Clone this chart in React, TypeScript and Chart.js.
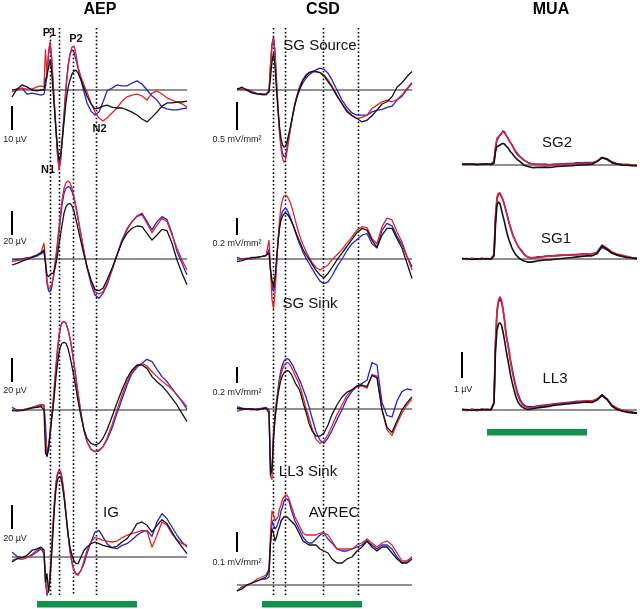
import React, { useEffect, useRef } from 'react';
import { Chart, registerables } from 'chart.js';

Chart.register(...registerables);

// ---------- data (time in ms relative to stimulus onset) ----------
const timeMs = [-50, -40, -30, -20, -10, 0, 8, 14, 17, 20, 23, 26, 29, 32, 35, 38, 41, 44, 47, 50, 54, 58, 62, 66, 70, 74, 78, 82, 88, 94, 100, 108, 116, 124, 132, 140, 150, 160, 170, 180, 190, 200, 210, 220, 230, 240, 250, 260, 270, 280, 290, 300];
const stimulusMs = [0, 200];
const aepMarkersMs = [26, 44, 72, 118];
const csdMarkersMs = [22, 46, 122, 192];

// AEP (µV)
const aep1Red = [-0.8, 0, 0.8, 0.4, 0.4, 1.3, 1.7, 1.3, 16.7, 5, 15.8, 20, 14.6, 4.2, -6.3, -16.7, -27.1, -33.3, -30, -22.9, -11.7, 0, 9.2, 15, 17.9, 18.3, 15, 9.6, 5.4, 2.1, -0.8, -5.4, -9.2, -11.7, -12.9, -11.7, -9.6, -7.5, -4.6, -2.9, -2.1, -1.7, -2.5, -4.2, -1.3, -0.4, -1.7, -3.3, -4.2, -5, -5.8, -7.1];
const aep1Blue = [0, 0.4, 0.8, -1.7, -1.3, -1.7, -2.1, -1.7, 1.3, 6.3, 14.6, 19.6, 13.8, 3.3, -6.7, -16.7, -26.3, -32.1, -29.2, -21.7, -10, 1.7, 10, 15, 16.7, 15.8, 12.5, 9.2, 4.2, -0.8, -5.4, -8.8, -10.4, -9.2, -5, -0.4, 0.8, 2.1, 1.7, 1.7, 2.9, 3.8, 2.5, 0, -2.5, -4.2, -7.1, -7.9, -8.3, -8.3, -7.9, -7.5];
const aep1Black = [-2.9, 0.4, 2.1, 1.3, 0, -0.4, 0, 0, 4.2, 6.3, 9.2, 12.5, 8.3, 0, -8.3, -16.7, -24.2, -29.2, -27.5, -21.7, -13.3, -5, 0.8, 4.2, 6.7, 7.9, 8.3, 7.1, 4.2, 0.8, -2.5, -5.8, -7.9, -7.5, -6.7, -6.3, -7.1, -7.5, -7.5, -8.3, -9.2, -10.4, -12.1, -13.3, -11.3, -9.2, -6.7, -5.4, -5.4, -5, -5, -4.6];

const aep2Red = [-2.2, -1.4, -0.8, 0.6, 1.9, 3.3, 5.3, 13.1, -0.8, -17.5, -24.4, -24.4, -21.7, -16.1, -6.4, 3.3, 14.4, 26.9, 38.1, 49.2, 58.9, 63.6, 65, 63.6, 58.9, 51.9, 43.6, 33.9, 20, 6.1, -6.4, -18.9, -27.2, -29.2, -27.2, -20.3, -9.2, 3.3, 14.4, 24.2, 31.1, 35.3, 36.7, 29.7, 21.9, 28.3, 33.9, 31.1, 20, 8.9, -0.8, -9.2];
const aep2Blue = [-0.8, -0.3, 0, 1.1, 1.4, 2.5, 4.2, 6.1, -3.6, -20.3, -26.4, -27.5, -24.4, -17.5, -9.2, 0.6, 11.7, 22.5, 33.9, 45, 54.7, 58.9, 60.3, 59.7, 56.1, 50.6, 42.2, 33.9, 20, 6.1, -6.9, -20.8, -30, -32.8, -28.6, -21.7, -9.2, 3.3, 15.8, 25.3, 31.1, 35.8, 38.1, 31.4, 24.2, 31.1, 35.3, 32.8, 21.4, 6.1, -3.6, -13.3];
const aep2Black = [-5, -3.6, -1.7, -0.3, 1.4, 3.3, 5.3, 7.5, -3.6, -13.3, -14.7, -13.3, -11.9, -11.9, -9.2, -3.6, 3.3, 11.7, 20, 28.3, 38.1, 43.6, 45.8, 46.4, 44.2, 39.7, 32.8, 25.3, 14.2, 3.3, -6.4, -17.5, -25.3, -26.4, -24.4, -17.5, -7.8, 3.3, 14.4, 21.4, 25.6, 27.5, 26.9, 21.4, 15.8, 20, 24.7, 23.6, 13.1, -0.8, -11.9, -21.4];

const aep3Red = [0, -0.6, 0, 1.1, 2.2, 3.6, 4.7, 4.2, -22.2, -33.3, -30.6, -19.4, -6.9, 6.9, 22.2, 37.5, 51.4, 62.5, 69.4, 72.8, 73.6, 72.2, 67.2, 59.7, 50, 38.9, 26.4, 13.9, -2.8, -16.7, -26.4, -32.8, -34.7, -34.2, -30.6, -23.6, -12.5, 0, 12.5, 23.6, 31.9, 36.7, 38.9, 36.7, 31.9, 27.8, 24.2, 20.8, 17.2, 12.5, 7.8, 2.8];
const aep3Blue = [2.2, 0, 0, 0.8, 1.7, 2.8, 3.6, 3.3, -11.1, -38.9, -33.3, -22.2, -8.3, 2.8, 18.1, 34.7, 48.6, 61.1, 68.9, 72.8, 73.6, 72.2, 67.2, 59.7, 50, 38.9, 26.4, 13.9, -2.8, -16.7, -26.4, -32.8, -34.7, -33.3, -30.6, -25, -15.3, -2.8, 8.9, 20.8, 30.6, 35.6, 38.9, 42.2, 40.3, 33.9, 27.8, 23.6, 18.1, 12.5, 6.9, 0.6];
const aep3Black = [-0.6, -0.8, -0.6, 0.6, 1.7, 2.2, 2.8, 0, -36.1, -38.3, -31.9, -19.4, -8.3, 1.4, 13.9, 27.8, 38.9, 47.8, 52.8, 55.6, 56.4, 55.6, 51.4, 44.4, 36.1, 27.8, 18.1, 7.8, -5.6, -16.7, -23.6, -27.8, -29.2, -27.8, -23.6, -16.7, -5.6, 6.1, 16.7, 26.4, 33.3, 37.5, 37.5, 34.7, 27.8, 23.6, 20, 15.3, 9.7, 4.2, -2.8, -9.7];

const aep4Red = [-2.8, -1.4, -1.9, -0.6, 2.2, 5.6, 7.8, 2.8, -22.2, -30.6, -27.8, -13.9, 5.6, 27.8, 47.2, 62.5, 70, 72.2, 71.7, 66.7, 52.8, 36.1, 19.4, 4.2, -5.6, -11.1, -14.4, -15.3, -11.1, -2.8, 5.6, 12.5, 16.1, 15.3, 13.9, 13.3, 12.5, 13.3, 16.1, 18.1, 19.4, 20.8, 22.2, 21.7, 8.3, 18.1, 29.2, 26.4, 19.4, 14.4, 11.1, 9.7];
const aep4Blue = [4.2, 0.6, -0.6, 0, 1.4, 4.2, 6.9, 2.8, -16.7, -31.9, -27.8, -16.7, 2.8, 25, 44.4, 61.1, 68.9, 70.8, 70.6, 65.3, 52.8, 36.1, 19.4, 5.6, -4.2, -11.1, -13.9, -14.4, -11.1, -5.6, 2.8, 12.5, 20.8, 22.2, 16.7, 11.1, 7.8, 6.9, 9.7, 11.1, 14.4, 18.1, 20.8, 22.2, 17.2, 29.2, 36.1, 31.9, 25, 18.1, 12.5, 8.3];
const aep4Black = [-4.2, -1.4, -0.6, 1.4, 5.6, 6.7, 8.3, 5.6, -20.8, -13.9, -29.2, -19.4, 0, 20.8, 41.7, 56.9, 64.4, 66.7, 66.7, 61.1, 50, 34.7, 19.4, 8.3, 1.4, -3.3, -5.6, -5.6, 0, 5.6, 8.3, 11.1, 12.5, 11.1, 9.7, 8.9, 7.8, 8.9, 12.5, 15.3, 20.8, 27.8, 29.2, 26.4, 20.8, 26.4, 31.1, 27.8, 20.8, 13.9, 8.3, 2.8];

// CSD (mV/mm²)
const csd1Red = [0.01, 0.02, -0.01, -0.05, -0.07, -0.08, -0.08, 0, 0.48, 0.83, 0.92, 0.66, 0.12, -0.36, -0.77, -1.04, -1.22, -1.29, -1.25, -1.1, -0.86, -0.63, -0.42, -0.24, -0.09, 0.03, 0.12, 0.19, 0.27, 0.31, 0.33, 0.33, 0.31, 0.27, 0.18, 0.07, -0.09, -0.24, -0.36, -0.45, -0.51, -0.49, -0.45, -0.33, -0.27, -0.21, -0.18, -0.21, -0.17, -0.09, 0.03, 0.13];
const csd1Blue = [0.03, 0.01, 0.01, -0.03, -0.06, -0.07, -0.08, -0.03, 0.42, 0.8, 0.95, 0.69, 0.18, -0.3, -0.71, -0.98, -1.13, -1.19, -1.18, -1.04, -0.83, -0.63, -0.43, -0.25, -0.12, -0.03, 0.06, 0.13, 0.21, 0.27, 0.31, 0.36, 0.39, 0.37, 0.3, 0.18, 0, -0.18, -0.31, -0.41, -0.45, -0.45, -0.45, -0.39, -0.36, -0.35, -0.31, -0.29, -0.18, -0.11, 0.01, 0.12];
const csd1Black = [0.01, 0.05, 0, -0.05, -0.07, -0.08, -0.08, -0.03, 0.21, 0.51, 0.66, 0.42, 0, -0.36, -0.66, -0.86, -0.98, -1.02, -1.01, -0.92, -0.77, -0.6, -0.42, -0.25, -0.12, 0, 0.09, 0.18, 0.25, 0.31, 0.33, 0.33, 0.31, 0.25, 0.15, 0.05, -0.11, -0.25, -0.39, -0.46, -0.51, -0.57, -0.54, -0.46, -0.36, -0.25, -0.21, -0.12, 0.05, 0.13, 0.24, 0.33];

const csd2Red = [-0.01, 0, 0, 0.01, 0.02, 0.03, 0.04, 0.22, -0.09, -0.48, -0.58, -0.4, -0.09, 0.22, 0.46, 0.62, 0.7, 0.74, 0.75, 0.74, 0.7, 0.64, 0.56, 0.47, 0.38, 0.3, 0.23, 0.17, 0.09, 0.02, -0.04, -0.1, -0.13, -0.1, -0.07, -0.01, 0.05, 0.11, 0.19, 0.26, 0.34, 0.38, 0.37, 0.24, 0.18, 0.38, 0.48, 0.46, 0.32, 0.2, 0.03, -0.13];
const csd2Blue = [0.02, 0, 0.01, 0, 0.02, 0.03, 0.04, 0.11, -0.13, -0.33, -0.38, -0.29, -0.05, 0.2, 0.38, 0.5, 0.56, 0.58, 0.6, 0.58, 0.53, 0.47, 0.4, 0.33, 0.26, 0.19, 0.14, 0.08, 0.01, -0.05, -0.11, -0.19, -0.26, -0.29, -0.27, -0.2, -0.09, 0, 0.1, 0.18, 0.23, 0.28, 0.3, 0.18, 0.13, 0.34, 0.42, 0.39, 0.27, 0.17, 0.03, -0.09];
const csd2Black = [-0.03, -0.02, 0, 0.02, 0.02, 0.03, 0.04, 0.07, -0.13, -0.25, -0.33, -0.21, -0.01, 0.2, 0.36, 0.46, 0.5, 0.53, 0.54, 0.53, 0.5, 0.45, 0.4, 0.34, 0.28, 0.22, 0.17, 0.11, 0.05, 0, -0.06, -0.13, -0.19, -0.22, -0.17, -0.1, -0.01, 0.07, 0.15, 0.23, 0.31, 0.36, 0.34, 0.22, 0.14, 0.28, 0.36, 0.36, 0.24, 0.13, -0.05, -0.23];

const csd3Red = [-0.03, -0.01, 0, 0, -0.01, 0, 0.01, -0.01, -0.84, -0.88, -0.34, -0.09, 0.08, 0.22, 0.35, 0.43, 0.5, 0.54, 0.57, 0.58, 0.57, 0.53, 0.48, 0.42, 0.37, 0.32, 0.24, 0.15, 0.01, -0.11, -0.24, -0.38, -0.43, -0.4, -0.32, -0.21, -0.07, 0.05, 0.17, 0.24, 0.28, 0.29, 0.26, 0.43, 0.41, -0.01, -0.26, -0.33, -0.18, -0.05, 0.05, 0.12];
const csd3Blue = [0.03, 0.01, 0, -0.01, 0, 0.01, 0.02, -0.01, -0.72, -0.76, -0.3, -0.07, 0.1, 0.24, 0.39, 0.49, 0.55, 0.6, 0.62, 0.63, 0.62, 0.58, 0.54, 0.48, 0.43, 0.37, 0.32, 0.25, 0.15, 0.03, -0.11, -0.28, -0.39, -0.43, -0.36, -0.27, -0.13, -0.01, 0.13, 0.22, 0.28, 0.32, 0.36, 0.58, 0.55, 0.08, -0.08, -0.1, 0.1, 0.22, 0.25, 0.24];
const csd3Black = [0.01, 0, 0, 0, -0.01, 0, 0.01, -0.05, -0.82, -0.76, -0.38, -0.13, 0.03, 0.18, 0.28, 0.37, 0.42, 0.45, 0.47, 0.48, 0.47, 0.44, 0.39, 0.33, 0.29, 0.25, 0.18, 0.08, -0.04, -0.18, -0.27, -0.34, -0.34, -0.3, -0.2, -0.07, 0.05, 0.15, 0.21, 0.24, 0.29, 0.3, 0.28, 0.42, 0.39, -0.01, -0.23, -0.29, -0.15, -0.01, 0.08, 0.15];

const csd4Red = [-0.03, -0.01, 0, 0.01, 0.03, 0.04, 0.05, 0.08, 0.26, 0.37, 0.35, 0.32, 0.33, 0.34, 0.38, 0.4, 0.43, 0.44, 0.45, 0.45, 0.43, 0.4, 0.37, 0.34, 0.32, 0.3, 0.28, 0.26, 0.25, 0.25, 0.25, 0.25, 0.26, 0.26, 0.25, 0.22, 0.18, 0.18, 0.18, 0.18, 0.2, 0.21, 0.23, 0.21, 0.19, 0.21, 0.22, 0.2, 0.16, 0.12, 0.12, 0.14];
const csd4Blue = [-0.03, -0.01, 0, 0.01, 0.02, 0.03, 0.03, 0.04, 0.21, 0.32, 0.3, 0.28, 0.29, 0.31, 0.33, 0.37, 0.39, 0.42, 0.43, 0.43, 0.42, 0.38, 0.35, 0.32, 0.3, 0.28, 0.26, 0.24, 0.22, 0.21, 0.21, 0.23, 0.25, 0.26, 0.23, 0.21, 0.18, 0.17, 0.17, 0.18, 0.19, 0.2, 0.22, 0.2, 0.18, 0.2, 0.2, 0.18, 0.14, 0.11, 0.12, 0.14];
const csd4Black = [-0.03, -0.02, 0, 0.01, 0.02, 0.03, 0.04, 0.07, 0.21, 0.28, 0.26, 0.22, 0.24, 0.27, 0.29, 0.32, 0.33, 0.34, 0.34, 0.34, 0.33, 0.32, 0.31, 0.3, 0.28, 0.26, 0.24, 0.22, 0.21, 0.2, 0.2, 0.2, 0.18, 0.17, 0.16, 0.13, 0.11, 0.11, 0.13, 0.14, 0.17, 0.19, 0.22, 0.19, 0.17, 0.19, 0.19, 0.16, 0.13, 0.11, 0.11, 0.13];

// MUA (µV)
const muaSg2Red = [0.04, 0.03, 0.05, 0.03, 0.04, 0.04, 0.03, 0.13, 0.71, 1.03, 1.09, 1.15, 1.22, 1.28, 1.24, 1.15, 1.06, 0.96, 0.86, 0.77, 0.64, 0.51, 0.42, 0.32, 0.24, 0.19, 0.14, 0.1, 0.06, 0.04, 0.03, 0.01, 0.01, 0, 0, 0.01, 0.03, 0.04, 0.04, 0.05, 0.06, 0.06, 0.08, 0.14, 0.29, 0.24, 0.12, 0.06, 0.04, 0.03, 0.01, 0];
const muaSg2Blue = [0.05, 0.02, 0.04, 0.01, 0.05, 0.03, 0.04, 0.13, 0.64, 0.96, 1.06, 1.15, 1.22, 1.31, 1.28, 1.15, 1.06, 0.96, 0.86, 0.77, 0.62, 0.47, 0.38, 0.32, 0.26, 0.19, 0.14, 0.09, 0.06, 0.04, 0.03, 0.03, 0.04, 0.01, 0.03, 0.04, 0.04, 0.06, 0.06, 0.08, 0.08, 0.09, 0.09, 0.14, 0.27, 0.22, 0.09, 0.04, 0.01, 0, -0.01, -0.03];
const muaSg2Black = [0.03, 0.04, 0.04, 0.02, 0.03, 0.05, 0.02, 0.06, 0.51, 0.71, 0.73, 0.77, 0.81, 0.83, 0.81, 0.73, 0.68, 0.6, 0.51, 0.45, 0.35, 0.26, 0.19, 0.13, 0.06, 0, -0.04, -0.06, -0.09, -0.1, -0.09, -0.09, -0.08, -0.09, -0.08, -0.06, -0.05, -0.04, -0.03, -0.01, 0, 0.01, 0.03, 0.13, 0.29, 0.22, 0.09, 0.04, 0, -0.01, -0.03, -0.03];

const muaSg1Red = [0.02, -0.02, 0.03, 0, 0.02, -0.01, 0.02, 0.15, 1.69, 2.38, 2.54, 2.54, 2.42, 2.27, 2.08, 1.85, 1.62, 1.38, 1.19, 1, 0.81, 0.65, 0.5, 0.38, 0.27, 0.19, 0.12, 0.08, 0.04, 0.04, 0.06, 0.08, 0.1, 0.1, 0.12, 0.12, 0.14, 0.15, 0.15, 0.17, 0.17, 0.19, 0.19, 0.27, 0.54, 0.42, 0.27, 0.19, 0.15, 0.1, 0.06, 0.04];
const muaSg1Blue = [0.03, 0, 0.02, -0.02, 0.03, 0, 0.01, 0.15, 1.58, 2.31, 2.5, 2.5, 2.38, 2.27, 2.08, 1.85, 1.65, 1.42, 1.23, 1.04, 0.81, 0.65, 0.5, 0.38, 0.31, 0.19, 0.12, 0.08, 0.04, 0.06, 0.08, 0.08, 0.1, 0.12, 0.12, 0.14, 0.15, 0.15, 0.17, 0.17, 0.19, 0.19, 0.2, 0.23, 0.46, 0.35, 0.23, 0.15, 0.12, 0.08, 0.04, 0];
const muaSg1Black = [0, 0.02, -0.02, 0.01, 0, 0.02, -0.01, 0.12, 1.31, 2.08, 2.19, 2.12, 1.88, 1.65, 1.42, 1.15, 0.92, 0.73, 0.58, 0.42, 0.27, 0.15, 0.08, 0, -0.04, -0.08, -0.1, -0.12, -0.12, -0.1, -0.08, -0.06, -0.04, -0.04, -0.02, 0, 0.02, 0.04, 0.06, 0.08, 0.1, 0.12, 0.12, 0.2, 0.5, 0.38, 0.23, 0.15, 0.1, 0.06, 0.04, 0.02];

const muaLl3Red = [0.02, -0.03, 0.04, 0, 0.03, -0.02, 0.02, 0.3, 2.69, 3.85, 4.23, 4.35, 4.23, 3.92, 3.46, 2.88, 2.58, 2.23, 1.85, 1.54, 1.15, 0.81, 0.54, 0.35, 0.23, 0.15, 0.12, 0.08, 0.08, 0.1, 0.12, 0.15, 0.17, 0.19, 0.21, 0.23, 0.25, 0.27, 0.29, 0.31, 0.33, 0.35, 0.35, 0.42, 0.58, 0.42, 0.19, 0.08, 0, -0.04, -0.08, -0.12];
const muaLl3Blue = [0.04, 0, 0.02, -0.03, 0.04, 0.01, 0.03, 0.3, 2.5, 3.77, 4.15, 4.27, 4.15, 3.85, 3.46, 2.96, 2.62, 2.31, 1.92, 1.62, 1.23, 0.88, 0.62, 0.42, 0.27, 0.19, 0.15, 0.12, 0.12, 0.12, 0.15, 0.17, 0.19, 0.21, 0.23, 0.25, 0.27, 0.29, 0.31, 0.33, 0.33, 0.35, 0.35, 0.4, 0.54, 0.4, 0.15, 0.04, -0.04, -0.08, -0.1, -0.12];
const muaLl3Black = [0, 0.02, -0.02, 0.02, 0, 0.03, 0, 0.25, 2.31, 3.08, 3.31, 3.35, 3.27, 3, 2.69, 2.31, 2, 1.69, 1.35, 1.08, 0.77, 0.5, 0.31, 0.19, 0.12, 0.08, 0.04, 0.02, 0.04, 0.06, 0.08, 0.1, 0.12, 0.14, 0.17, 0.19, 0.21, 0.23, 0.25, 0.27, 0.29, 0.31, 0.29, 0.38, 0.58, 0.42, 0.15, 0.02, -0.04, -0.08, -0.1, -0.12];

// ---------- layout & style ----------
const W = 640;
const H = 609;
const MS_PER_PX = 2;
const RED = '#e2232b';
const BLUE = '#2323d4';
const BLACK = '#111111';
const GREEN = '#11924a';
const FONT = '"Liberation Sans", Arial, Helvetica, sans-serif';

type Panel = {
  red: number[]; blue: number[]; black: number[];
  base: number; k: number;
  bar?: number; barBottom?: number; barLabel?: string; labelY?: number;
};
type Column = {
  id: string; title: string; titleX: number; x0: number; lw: number;
  markers: number[]; markerTops: number[]; stimY: number; labelDx: number;
  panels: Panel[];
};

const columns: Column[] = [
  {
    id: 'A', title: 'AEP', titleX: 100, x0: 12, lw: 1.3, markers: aepMarkersMs, markerTops: [28, 28, 46, 28], stimY: 604, labelDx: 3,
    panels: [
      { red: aep1Red, blue: aep1Blue, black: aep1Black, base: 90, k: 2.4, bar: 10, barBottom: 130, barLabel: '10 µV', labelY: 140 },
      { red: aep2Red, blue: aep2Blue, black: aep2Black, base: 259, k: 1.2, bar: 20, barBottom: 235, barLabel: '20 µV', labelY: 242 },
      { red: aep3Red, blue: aep3Blue, black: aep3Black, base: 410, k: 1.2, bar: 20, barBottom: 382, barLabel: '20 µV', labelY: 391 },
      { red: aep4Red, blue: aep4Blue, black: aep4Black, base: 557, k: 1.2, bar: 20, barBottom: 529, barLabel: '20 µV', labelY: 539 },
    ],
  },
  {
    id: 'C', title: 'CSD', titleX: 323, x0: 237, lw: 1.3, markers: csdMarkersMs, markerTops: [28, 28, 28, 28], stimY: 604, labelDx: 0,
    panels: [
      { red: csd1Red, blue: csd1Blue, black: csd1Black, base: 90, k: 56, bar: 0.5, barBottom: 130, barLabel: '0.5 mV/mm²', labelY: 140 },
      { red: csd2Red, blue: csd2Blue, black: csd2Black, base: 259, k: 85, bar: 0.2, barBottom: 235, barLabel: '0.2 mV/mm²', labelY: 244 },
      { red: csd3Red, blue: csd3Blue, black: csd3Black, base: 409, k: 80, bar: 0.2, barBottom: 383, barLabel: '0.2 mV/mm²', labelY: 393 },
      { red: csd4Red, blue: csd4Blue, black: csd4Black, base: 585, k: 200, bar: 0.1, barBottom: 552, barLabel: '0.1 mV/mm²', labelY: 563 },
    ],
  },
  {
    id: 'M', title: 'MUA', titleX: 551, x0: 462, lw: 1.6, markers: [], markerTops: [], stimY: 432, labelDx: 1,
    panels: [
      { red: muaSg2Red, blue: muaSg2Blue, black: muaSg2Black, base: 165, k: 26 },
      { red: muaSg1Red, blue: muaSg1Blue, black: muaSg1Black, base: 259, k: 26 },
      { red: muaLl3Red, blue: muaLl3Blue, black: muaLl3Black, base: 410, k: 26, bar: 1, barBottom: 378, barLabel: '1 µV', labelY: 390 },
    ],
  },
];

const peakLabels = [
  { text: 'P1', x: 49.5, y: 33 },
  { text: 'P2', x: 76, y: 39 },
  { text: 'N1', x: 48, y: 170 },
  { text: 'N2', x: 99.5, y: 129 },
];
const regionLabels = [
  { text: 'IG', x: 111, y: 513 },
  { text: 'SG Source', x: 320, y: 46 },
  { text: 'SG Sink', x: 310, y: 304 },
  { text: 'LL3 Sink', x: 308, y: 472 },
  { text: 'AVREC', x: 334, y: 513 },
  { text: 'SG2', x: 557, y: 143 },
  { text: 'SG1', x: 556, y: 239 },
  { text: 'LL3', x: 555, y: 379 },
];

const pts = (vals: number[]) => vals.map((v, i) => ({ x: timeMs[i], y: v }));

export default function App() {
  const ref = useRef<HTMLCanvasElement | null>(null);

  useEffect(() => {
    if (!ref.current) return;
    const scales: any = {
      x: { type: 'linear', display: false },
      y: { type: 'linear', display: false },
    };
    const datasets: any[] = [];
    columns.forEach((col) => {
      const xmin = -50 - col.x0 * MS_PER_PX;
      scales['x' + col.id] = { type: 'linear', axis: 'x', position: 'bottom', display: false, min: xmin, max: xmin + W * MS_PER_PX };
      col.panels.forEach((p, pi) => {
        const yid = 'y' + col.id + pi;
        scales[yid] = { type: 'linear', axis: 'y', position: 'left', display: false, min: -(H - p.base) / p.k, max: p.base / p.k };
        const common = { xAxisID: 'x' + col.id, yAxisID: yid, pointRadius: 0, tension: 0, fill: false };
        datasets.push({ ...common, label: 'black', data: pts(p.black), borderColor: BLACK, borderWidth: col.lw, order: 0 });
        datasets.push({ ...common, label: 'red', data: pts(p.red), borderColor: RED, borderWidth: col.lw, order: 1 });
        datasets.push({ ...common, label: 'blue', data: pts(p.blue), borderColor: BLUE, borderWidth: col.lw, order: 2 });
        datasets.push({ ...common, label: 'baseline', data: [{ x: timeMs[0], y: 0 }, { x: timeMs[timeMs.length - 1], y: 0 }], borderColor: '#222', borderWidth: 1.2, order: 3 });
      });
    });

    const overlay = {
      id: 'overlay',
      beforeDatasetsDraw(chart: any) {
        const ctx = chart.ctx;
        ctx.save();
        ctx.strokeStyle = '#000';
        ctx.lineWidth = 1.6;
        ctx.setLineDash([1.6, 2.3]);
        columns.forEach((col) => {
          const xs = chart.scales['x' + col.id];
          col.markers.forEach((t, i) => {
            const px = Math.round(xs.getPixelForValue(t)) + 0.5;
            ctx.beginPath();
            ctx.moveTo(px, col.markerTops[i]);
            ctx.lineTo(px, 595);
            ctx.stroke();
          });
        });
        ctx.restore();
      },
      afterDatasetsDraw(chart: any) {
        const ctx = chart.ctx;
        ctx.save();
        columns.forEach((col) => {
          const xs = chart.scales['x' + col.id];
          // stimulus bar
          const sx0 = xs.getPixelForValue(stimulusMs[0]);
          const sx1 = xs.getPixelForValue(stimulusMs[1]);
          ctx.fillStyle = GREEN;
          ctx.fillRect(sx0, col.stimY - 3, sx1 - sx0, 6.5);
          // title
          ctx.fillStyle = '#000';
          ctx.font = 'bold 16px ' + FONT;
          ctx.textAlign = 'center';
          ctx.textBaseline = 'middle';
          ctx.fillText(col.title, col.titleX, 10);
          // scale bars
          const bx = Math.round(xs.getPixelForValue(timeMs[0]));
          col.panels.forEach((p, pi) => {
            if (p.bar === undefined || p.barBottom === undefined) return;
            const ys = chart.scales['y' + col.id + pi];
            const len = Math.abs(ys.getPixelForValue(p.bar) - ys.getPixelForValue(0));
            ctx.fillStyle = '#000';
            ctx.fillRect(bx - 1, p.barBottom - len, 2, len);
            ctx.font = '9px ' + FONT;
            ctx.fillStyle = '#222';
            ctx.fillText(p.barLabel || '', bx + col.labelDx, p.labelY || 0);
          });
        });
        ctx.fillStyle = '#111';
        ctx.textAlign = 'center';
        ctx.textBaseline = 'middle';
        ctx.font = 'bold 11px ' + FONT;
        peakLabels.forEach((l) => ctx.fillText(l.text, l.x, l.y));
        ctx.font = '15px ' + FONT;
        regionLabels.forEach((l) => ctx.fillText(l.text, l.x, l.y));
        ctx.restore();
      },
    };

    const chart = new Chart(ref.current, {
      type: 'line',
      data: { datasets },
      options: {
        responsive: false,
        animation: false,
        events: [],
        layout: { padding: 0 },
        plugins: { legend: { display: false }, tooltip: { enabled: false }, title: { display: false } },
        elements: { point: { radius: 0 }, line: { borderJoinStyle: 'round', borderCapStyle: 'butt' } },
        scales,
      } as any,
      plugins: [overlay],
    });
    return () => chart.destroy();
  }, []);

  return (
    <div style={{ position: 'absolute', left: 0, top: 0, width: W, height: H, background: '#fff' }}>
      <canvas ref={ref} width={W} height={H} style={{ display: 'block', width: W, height: H }} />
    </div>
  );
}
